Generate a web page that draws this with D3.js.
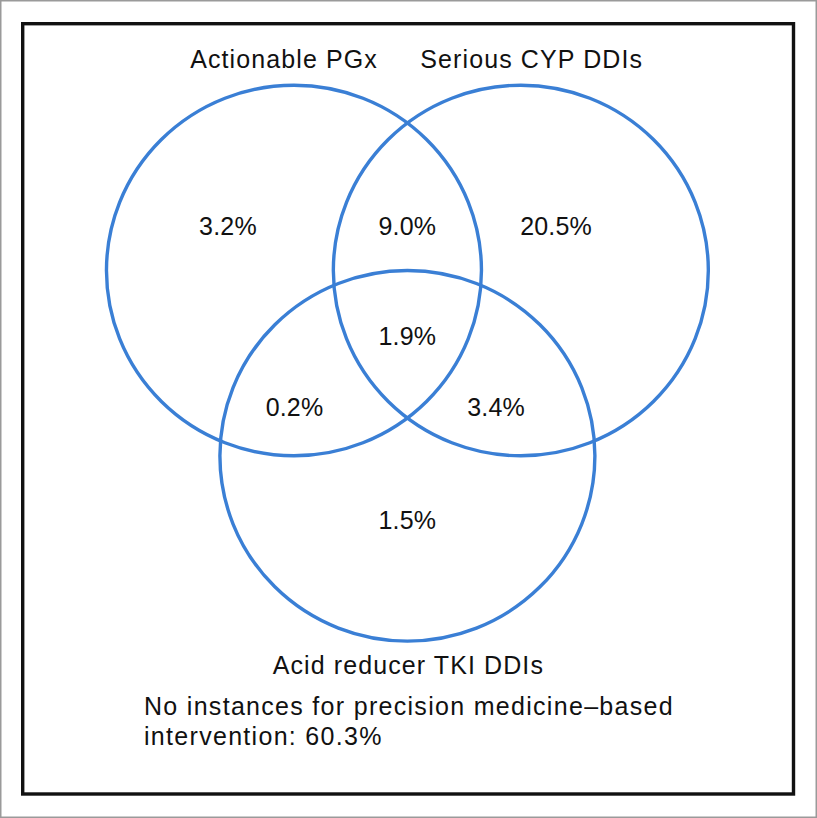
<!DOCTYPE html>
<html>
<head>
<meta charset="utf-8">
<script src="https://cdn.jsdelivr.net/npm/d3@7/dist/d3.min.js"></script>
<style>
  html, body { margin: 0; padding: 0; background: #fff; }
  svg { display: block; }
  text { font-family: "Liberation Sans", Arial, Helvetica, sans-serif; fill: #111; }
</style>
</head>
<body>
<div id="chart"></div>
<script>
// ---- Data ----
const setNames = ["Actionable PGx", "Serious CYP DDIs", "Acid reducer TKI DDIs"];
// set circle centers in unit-radius Venn space
const setCx = [-0.605, 0.605, 0];
const setCy = [0, 0, 1.0];
// set name label anchors (unit space)
const setLabelX = [-0.658, 0.663, 0.005];
const setLabelY = [-1.094, -1.094, 2.179];

const regionNames = ["PGx only", "PGx & CYP", "CYP only", "All three", "PGx & Acid", "CYP & Acid", "Acid only"];
const regionValues = ["3.2%", "9.0%", "20.5%", "1.9%", "0.2%", "3.4%", "1.5%"];
const regionX = [-0.957, 0, 0.793, 0, -0.602, 0.473, 0];
const regionY = [-0.192, -0.192, -0.192, 0.402, 0.785, 0.785, 1.395];

const noneLines = ["No instances for precision medicine\u2013based", "intervention: 60.3%"];

// ---- Layout ----
const W = 817, H = 818;
const svg = d3.select("#chart").append("svg").attr("width", W).attr("height", H);

// outer thin frame
svg.append("rect").attr("x", 0.75).attr("y", 0.75).attr("width", W - 1.5).attr("height", H - 1.5)
  .attr("fill", "none").attr("stroke", "#9a9a9a").attr("stroke-width", 1.5);
// black border
svg.append("rect").attr("x", 22.7).attr("y", 23.7).attr("width", 793.5 - 22.7).attr("height", 794 - 23.7)
  .attr("fill", "none").attr("stroke", "#111").attr("stroke-width", 3.4);

// scales: unit radius -> pixels
const x = d3.scaleLinear().domain([-1, 1]).range([407.4 - 187.5, 407.4 + 187.5]);
const y = d3.scaleLinear().domain([-1, 1]).range([270.5 - 185.3, 270.5 + 185.3]);
const rx = x(1) - x(0), ry = y(1) - y(0);

svg.append("g").selectAll("ellipse").data(setNames).join("ellipse")
  .attr("cx", (d, i) => x(setCx[i]))
  .attr("cy", (d, i) => y(setCy[i]))
  .attr("rx", rx).attr("ry", ry)
  .attr("fill", "none").attr("stroke", "#3a7fd5").attr("stroke-width", 3.4);

svg.append("g").selectAll("text").data(setNames).join("text")
  .attr("x", (d, i) => x(setLabelX[i]))
  .attr("y", (d, i) => y(setLabelY[i]))
  .attr("text-anchor", "middle")
  .style("font-size", "25px").style("letter-spacing", "1.1px")
  .text(d => d);

svg.append("g").selectAll("text").data(regionValues).join("text")
  .attr("x", (d, i) => x(regionX[i]))
  .attr("y", (d, i) => y(regionY[i]))
  .attr("text-anchor", "middle")
  .style("font-size", "25px").style("letter-spacing", "0.2px")
  .text(d => d);

svg.append("g").selectAll("text").data(noneLines).join("text")
  .attr("x", 144)
  .attr("y", (d, i) => 715 + i * 30)
  .style("font-size", "25px").style("letter-spacing", "1.3px")
  .text(d => d);
</script>
</body>
</html>
